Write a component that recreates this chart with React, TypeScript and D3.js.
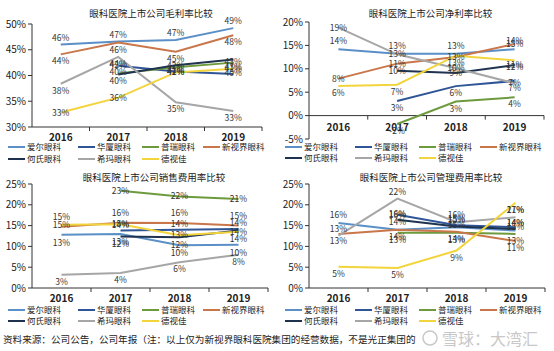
import * as d3 from "d3";

// categories and series
const years = ["2016", "2017", "2018", "2019"];
const companies = ["爱尔眼科", "华厦眼科", "普瑞眼科", "新视界眼科", "何氏眼科", "希玛眼科", "德视佳"];
const colors = ["#5b8fc7", "#2f5597", "#6e9a3e", "#c8764a", "#1f3350", "#a6a6a6", "#f2d43c"];

// values per company (null = not listed yet)
const grossMargin = [
  [46, 46.6, 46.9, 49.2],
  [null, 41.9, 40.8, 40.3],
  [null, 40.4, 41.6, 42.5],
  [44.1, 46.4, 44.6, 47.8],
  [null, 40.2, 42.0, 43.1],
  [38.4, 43.6, 34.8, 33.1],
  [32.8, 35.7, 40.6, 41.3],
];
const netMargin = [
  [14.2, 13.2, 13.2, 14.2],
  [null, 3.1, 6.3, 7.4],
  [null, -1.8, 3.0, 3.9],
  [7.9, 11.1, 12.5, 15.3],
  [null, 9.6, 9.1, 10.8],
  [18.8, 13.1, 10.1, 6.9],
  [6.3, 6.6, 12.8, 11.8],
];
const sellingRatio = [
  [12.8, 13.0, 10.3, 10.4],
  [null, 13.8, 14.0, 14.2],
  [null, 23.4, 22.0, 21.4],
  [14.7, 15.7, 15.6, 15.0],
  [null, 12.4, 12.2, 13.8],
  [3.2, 3.6, 6.2, 8.0],
  [15.2, 15.3, 12.7, 13.5],
];
const adminRatio = [
  [15.6, 14.0, 14.6, 13.8],
  [null, 17.6, 15.1, 14.6],
  [null, 13.3, 13.3, 13.0],
  [13.0, 14.0, 13.5, 11.3],
  [null, 16.4, 14.8, 14.2],
  [12.6, 21.5, 15.8, 17.0],
  [5.1, 4.8, 9.0, 20.5],
];

const titles = [
  "眼科医院上市公司毛利率比较",
  "眼科医院上市公司净利率比较",
  "眼科医院上市公司销售费用率比较",
  "眼科医院上市公司管理费用率比较",
];
const footnote = "资料来源：公司公告，公司年报（注：以上仅为新视界眼科医院集团的经营数据，不是光正集团的";

const FONT = "'Noto Sans CJK SC', 'Noto Sans', sans-serif";

type PanelProps = {
  ox: number;
  title: string;
  titleY: number;
  values: (number | null)[][];
  domain: [number, number];
  step: number;
  xr: [number, number];
  yr: [number, number];
  xLabelY: number;
  legendY: [number, number];
  labelDy: number[];
};

function Panel(p: PanelProps) {
  const x = d3.scaleBand<string>().domain(years).range(p.xr);
  const y = d3.scaleLinear().domain(p.domain).range(p.yr);
  const ticks = d3.range(p.domain[0], p.domain[1] + 0.01, p.step);
  const zeroY = y(Math.max(0, p.domain[0]));
  const cx = (yr: string) => (x(yr) as number) + x.bandwidth() / 2;
  const line = d3
    .line<number | null>()
    .defined((d) => d != null)
    .x((_, i) => cx(years[i]))
    .y((d) => y(d as number));
  const legendCols = [8, 78, 142, 203];
  return (
    <g>
      <text x={(p.xr[0] + p.xr[1]) / 2 + 4} y={p.titleY} textAnchor="middle" fontSize={9.5} fill="#222">
        {p.title}
      </text>
      {ticks.map((t) => (
        <g key={t}>
          <line x1={p.xr[0] - 4} x2={p.xr[0]} y1={y(t)} y2={y(t)} stroke="#333" />
          <text x={p.xr[0] - 6} y={y(t) + 3.5} textAnchor="end" fontSize={10} fill="#222">
            {t}%
          </text>
        </g>
      ))}
      <line x1={p.xr[0]} x2={p.xr[0]} y1={p.yr[1]} y2={p.yr[0]} stroke="#333" />
      <line x1={p.xr[0]} x2={p.xr[1]} y1={zeroY} y2={zeroY} stroke="#333" />
      {years.map((yr) => (
        <line key={yr} x1={(x(yr) as number) + x.bandwidth()} x2={(x(yr) as number) + x.bandwidth()}
          y1={zeroY} y2={zeroY + 4} stroke="#333" />
      ))}
      {years.map((yr) => (
        <text key={yr} x={cx(yr)} y={p.xLabelY} textAnchor="middle" fontSize={10} fontWeight="bold" fill="#222">
          {yr}
        </text>
      ))}
      {p.values.map((vals, si) => (
        <path key={si} d={line(vals) || ""} fill="none" stroke={colors[si]} strokeWidth={2} />
      ))}
      {p.values.map((vals, si) =>
        vals.map((v, i) =>
          v == null ? null : (
            <text key={si + "-" + i} x={cx(years[i])} y={y(v) + p.labelDy[si]} textAnchor="middle"
              fontSize={8.5} fill="#333">
              {Math.round(v)}%
            </text>
          )
        )
      )}
      {companies.map((c, si) => {
        const lx = p.ox + legendCols[si % 4];
        const ly = p.legendY[si < 4 ? 0 : 1];
        return (
          <g key={c}>
            <line x1={lx} x2={lx + 17} y1={ly} y2={ly} stroke={colors[si]} strokeWidth={2} />
            <text x={lx + 19} y={ly + 3} fontSize={8.5} fill="#222">{c}</text>
          </g>
        );
      })}
    </g>
  );
}

export default function App() {
  return (
    <svg width={554} height={351} style={{ position: "absolute", left: 0, top: 0, background: "#fff" }}
      fontFamily={FONT}>
      <rect width={554} height={351} fill="#fff" />
      <Panel ox={0} title={titles[0]} titleY={17} values={grossMargin} domain={[30, 50]} step={5}
        xr={[32, 262]} yr={[127, 24]} xLabelY={141} legendY={[147, 159]}
        labelDy={[-4, 2, 2, 10, 10, 10, 3]} />
      <Panel ox={277} title={titles[1]} titleY={17} values={netMargin} domain={[-5, 20]} step={5}
        xr={[309, 544]} yr={[139, 22]} xLabelY={131} legendY={[147, 158]}
        labelDy={[-5, 10, 10, 3, 3, 3, 10]} />
      <Panel ox={0} title={titles[2]} titleY={181} values={sellingRatio} domain={[0, 25]} step={5}
        xr={[32, 268]} yr={[288, 184]} xLabelY={302} legendY={[310, 321]}
        labelDy={[11, -3, 3, -7, 11, 10, 3]} />
      <Panel ox={277} title={titles[3]} titleY={181} values={adminRatio} domain={[0, 25]} step={5}
        xr={[309, 545]} yr={[288, 184]} xLabelY={302} legendY={[310, 321]}
        labelDy={[-5, 3, 10, 10, -3, -4, 10]} />
      <text x={3} y={343} fontSize={9.6} fill="#222">{footnote}</text>
      <circle cx={430} cy={338} r={7} fill="none" stroke="#c8c8c8" strokeWidth={1.5} />
      <text x={442} y={345} fontSize={16} fill="#c8c8c8">雪球：大湾汇</text>
    </svg>
  );
}
